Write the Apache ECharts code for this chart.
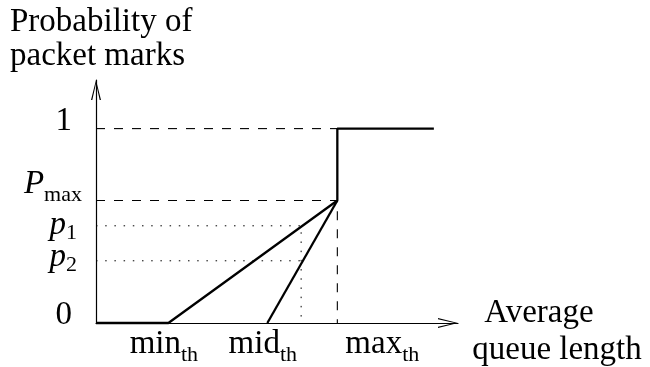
<!DOCTYPE html>
<html>
<head>
<meta charset="utf-8">
<script src="https://cdn.jsdelivr.net/npm/echarts@6/dist/echarts.min.js"></script>
<style>
  html, body { margin: 0; padding: 0; background: #fff; }
  #main { width: 650px; height: 367px; }
</style>
</head>
<body>
<div id="main"></div>
<script>
// queue length thresholds (x axis units)
var minTh = 3, midTh = 7.1, maxTh = 10, queueEnd = 14, crossQ = 8.5;
// marking probabilities
var pMax = 0.63, p1 = 0.5, p2 = 0.32;

// solid curves
var curveMain = [[0, 0], [minTh, 0], [maxTh, pMax], [maxTh, 1], [queueEnd, 1]];
var curveMid = [[midTh, 0], [maxTh, pMax]];
// dashed guides
var guideOne = [[0, 1], [maxTh, 1]];
var guidePmax = [[0, pMax], [maxTh, pMax], [maxTh, 0]];
// dotted guides
var guideP1 = [[0, p1], [crossQ, p1], [crossQ, 0]];
var guideP2 = [[0, p2], [crossQ, p2]];

// tick labels
var yTicks = [0, p2, p1, pMax, 1];
var yTickText = ['{n|0}', '{q|p}{s|2}', '{i|p}{s|1}', '{P|P}{ps|max}', '{n|1}'];
var xTicks = [minTh, midTh];
var xTickText = ['{m|min}{t|th}', '{m|mid}{t|th}'];
// max label sits to the right of its tick, kept on its own axis so it is not hidden
var xTicksFar = [maxTh];
var xTickTextFar = ['{M|max}{t|th}'];

var serif = 'Liberation Serif';
var arrow = 'path://M0,20L5,0L10,20L8.7,20L5,3.5L1.3,20Z';

var chartDom = document.getElementById('main');
var myChart = echarts.init(chartDom);

function lineSeries(data, width, type) {
  return {
    type: 'line',
    data: data,
    symbol: 'none',
    silent: true,
    clip: false,
    lineStyle: { color: '#000', width: width, type: type, cap: 'butt' }
  };
}

var xRich = {
  m: { fontFamily: serif, fontSize: 33, lineHeight: 33, verticalAlign: 'top', color: '#000' },
  M: { fontFamily: serif, fontSize: 33, lineHeight: 33, verticalAlign: 'top', color: '#000', padding: [0, 0, 0, 99] },
  t: { fontFamily: serif, fontSize: 22, lineHeight: 22, verticalAlign: 'top', color: '#000', padding: [16, 9, 0, 0] }
};

var option = {
  animation: false,
  title: {
    text: 'Probability of\npacket marks',
    left: 10,
    top: 5,
    padding: 0,
    textStyle: { fontFamily: serif, fontSize: 33, fontWeight: 'normal', lineHeight: 34, color: '#000' }
  },
  grid: { left: 96, right: 192, top: 80, bottom: 44, outerBoundsMode: 'none' },
  xAxis: [{
    type: 'value',
    min: 0,
    max: 15,
    position: 'bottom',
    splitLine: { show: false },
    axisTick: { show: false },
    axisLine: {
      symbol: ['none', arrow],
      symbolSize: [10, 20],
      symbolOffset: [0, -10],
      lineStyle: { color: '#000', width: 1.2 }
    },
    axisLabel: {
      customValues: xTicks,
      showMinLabel: true,
      showMaxLabel: true,
      margin: 5,
      formatter: function (v) { return xTickText[xTicks.indexOf(v)]; },
      rich: xRich
    },
    name: '{a|Average}\n{b|queue length}',
    nameLocation: 'end',
    nameGap: 99,
    nameTextStyle: {
      align: 'center',
      verticalAlign: 'middle',
      padding: [17, 0, 0, 0],
      rich: {
        a: { fontFamily: serif, fontSize: 33, lineHeight: 37, color: '#000', padding: [0, 36, 0, 0] },
        b: { fontFamily: serif, fontSize: 33, lineHeight: 37, color: '#000' }
      }
    }
  }, {
    type: 'value',
    min: 0,
    max: 15,
    position: 'bottom',
    splitLine: { show: false },
    axisTick: { show: false },
    axisLine: { show: false },
    axisLabel: {
      customValues: xTicksFar,
      showMinLabel: true,
      showMaxLabel: true,
      margin: 5,
      formatter: function (v) { return xTickTextFar[xTicksFar.indexOf(v)]; },
      rich: xRich
    }
  }],
  yAxis: {
    type: 'value',
    min: 0,
    max: 1.25,
    splitLine: { show: false },
    axisTick: { show: false },
    axisLine: {
      symbol: ['none', arrow],
      symbolSize: [10, 20],
      symbolOffset: [0, -10],
      lineStyle: { color: '#000', width: 1.2 }
    },
    axisLabel: {
      customValues: yTicks,
      showMinLabel: true,
      showMaxLabel: true,
      margin: 14,
      formatter: function (v) { return yTickText[yTicks.indexOf(v)]; },
      rich: {
        n: { fontFamily: serif, fontSize: 33, verticalAlign: 'top', color: '#000', padding: [0, 10, 15, 0] },
        P: { fontFamily: serif, fontSize: 33, verticalAlign: 'top', fontStyle: 'italic', color: '#000', padding: [0, 0, 32, 0] },
        ps: { fontFamily: serif, fontSize: 22, lineHeight: 22, verticalAlign: 'top', color: '#000', padding: [16, 0, 0, 0] },
        i: { fontFamily: serif, fontSize: 33, lineHeight: 33, verticalAlign: 'top', fontStyle: 'italic', color: '#000' },
        q: { fontFamily: serif, fontSize: 33, verticalAlign: 'top', fontStyle: 'italic', color: '#000', padding: [0, 0, 6, 0] },
        s: { fontFamily: serif, fontSize: 22, lineHeight: 22, verticalAlign: 'top', color: '#000', padding: [13, 5, 0, 0] }
      }
    }
  },
  series: [
    lineSeries(guideOne, 1.1, [9, 9]),
    lineSeries(guidePmax, 1.1, [9, 9]),
    lineSeries(guideP1, 1, [1.5, 7.7]),
    lineSeries(guideP2, 1, [1.5, 7.7]),
    lineSeries(curveMid, 2.3, 'solid'),
    lineSeries(curveMain, 2.3, 'solid')
  ]
};

myChart.setOption(option);
</script>
</body>
</html>
